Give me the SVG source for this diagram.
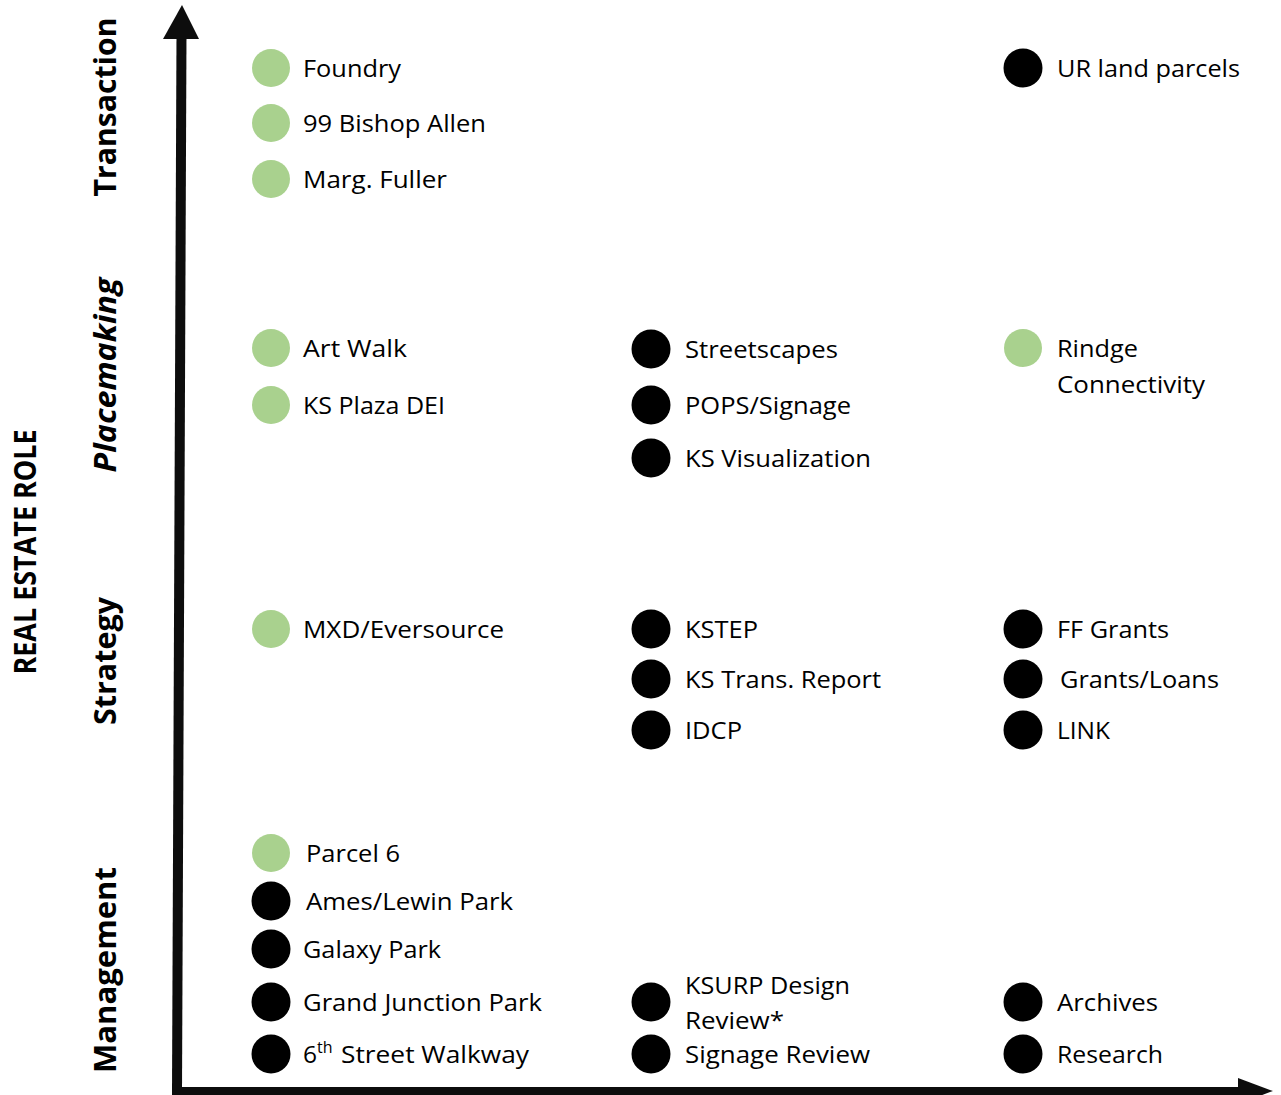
<svg xmlns="http://www.w3.org/2000/svg" width="1281" height="1095" viewBox="0 0 1281 1095">
<style>
.t{font-family:"Open Sans","Liberation Sans",sans-serif;font-size:24.5px;fill:#000}
.g{fill:#a9d18e}
.k{fill:#000}
.ax{font-family:"Open Sans","Liberation Sans",sans-serif;font-weight:bold;font-size:30px;fill:#000}
.axis{stroke:#0d0d0d;stroke-width:10;fill:none}
</style>
<rect width="1281" height="1095" fill="#fff"/>
<g id="connectors">
<path class="axis" d="M177,1092 L181.5,34"/>
<path class="axis" d="M172,1092 L1245,1092"/>
<polygon points="182,5 199,39 163,39" fill="#0d0d0d"/>
<polygon points="1273,1091 1238,1078 1238,1104" fill="#0d0d0d"/>
</g>
<g id="axis-labels">
<text class="ax" transform="translate(116,107) rotate(-90)" text-anchor="middle" textLength="179" lengthAdjust="spacingAndGlyphs">Transaction</text>
<text class="ax" transform="translate(116,375) rotate(-90)" text-anchor="middle" font-style="italic" textLength="195" lengthAdjust="spacingAndGlyphs">Placemaking</text>
<text class="ax" transform="translate(116,661) rotate(-90)" text-anchor="middle" textLength="128" lengthAdjust="spacingAndGlyphs">Strategy</text>
<text class="ax" transform="translate(116,970) rotate(-90)" text-anchor="middle" textLength="206" lengthAdjust="spacingAndGlyphs">Management</text>
<text class="ax" transform="translate(36,552) rotate(-90)" text-anchor="middle" font-size="24" textLength="245" lengthAdjust="spacingAndGlyphs">REAL ESTATE ROLE</text>
</g>
<g id="foundry"><circle class="g" cx="271" cy="68" r="19"/><text class="t" x="303" y="77" textLength="98" lengthAdjust="spacingAndGlyphs">Foundry</text></g>
<g id="bishop-allen"><circle class="g" cx="271" cy="123" r="19"/><text class="t" x="303" y="132" textLength="183" lengthAdjust="spacingAndGlyphs">99 Bishop Allen</text></g>
<g id="marg-fuller"><circle class="g" cx="271" cy="179" r="19"/><text class="t" x="303" y="188" textLength="144" lengthAdjust="spacingAndGlyphs">Marg. Fuller</text></g>
<g id="ur-land-parcels"><circle class="k" cx="1023" cy="68" r="19.5"/><text class="t" x="1057" y="77" textLength="183" lengthAdjust="spacingAndGlyphs">UR land parcels</text></g>
<g id="art-walk"><circle class="g" cx="271" cy="348" r="19"/><text class="t" x="303" y="357" textLength="104" lengthAdjust="spacingAndGlyphs">Art Walk</text></g>
<g id="ks-plaza-dei"><circle class="g" cx="271" cy="405" r="19"/><text class="t" x="303" y="414" textLength="142" lengthAdjust="spacingAndGlyphs">KS Plaza DEI</text></g>
<g id="streetscapes"><circle class="k" cx="651" cy="349" r="19.5"/><text class="t" x="685" y="358" textLength="153" lengthAdjust="spacingAndGlyphs">Streetscapes</text></g>
<g id="pops-signage"><circle class="k" cx="651" cy="405" r="19.5"/><text class="t" x="685" y="414" textLength="166" lengthAdjust="spacingAndGlyphs">POPS/Signage</text></g>
<g id="ks-visualization"><circle class="k" cx="651" cy="458" r="19.5"/><text class="t" x="685" y="467" textLength="186" lengthAdjust="spacingAndGlyphs">KS Visualization</text></g>
<g id="rindge-connectivity"><circle class="g" cx="1023" cy="348" r="19"/><text class="t" x="1057" y="357" textLength="81" lengthAdjust="spacingAndGlyphs">Rindge</text><text class="t" x="1057" y="393" textLength="148" lengthAdjust="spacingAndGlyphs">Connectivity</text></g>
<g id="mxd-eversource"><circle class="g" cx="271" cy="629" r="19"/><text class="t" x="303" y="638" textLength="201" lengthAdjust="spacingAndGlyphs">MXD/Eversource</text></g>
<g id="kstep"><circle class="k" cx="651" cy="629" r="19.5"/><text class="t" x="685" y="638" textLength="73" lengthAdjust="spacingAndGlyphs">KSTEP</text></g>
<g id="ks-trans-report"><circle class="k" cx="651" cy="679" r="19.5"/><text class="t" x="685" y="688" textLength="196" lengthAdjust="spacingAndGlyphs">KS Trans. Report</text></g>
<g id="idcp"><circle class="k" cx="651" cy="730" r="19.5"/><text class="t" x="685" y="739" textLength="57" lengthAdjust="spacingAndGlyphs">IDCP</text></g>
<g id="ff-grants"><circle class="k" cx="1023" cy="629" r="19.5"/><text class="t" x="1057" y="638" textLength="112" lengthAdjust="spacingAndGlyphs">FF Grants</text></g>
<g id="grants-loans"><circle class="k" cx="1023" cy="679" r="19.5"/><text class="t" x="1060" y="688" textLength="159" lengthAdjust="spacingAndGlyphs">Grants/Loans</text></g>
<g id="link"><circle class="k" cx="1023" cy="730" r="19.5"/><text class="t" x="1057" y="739" textLength="53" lengthAdjust="spacingAndGlyphs">LINK</text></g>
<g id="parcel-6"><circle class="g" cx="271" cy="853" r="19"/><text class="t" x="306" y="862" textLength="94" lengthAdjust="spacingAndGlyphs">Parcel 6</text></g>
<g id="ames-lewin-park"><circle class="k" cx="271" cy="901" r="19.5"/><text class="t" x="306" y="910" textLength="207" lengthAdjust="spacingAndGlyphs">Ames/Lewin Park</text></g>
<g id="galaxy-park"><circle class="k" cx="271" cy="949" r="19.5"/><text class="t" x="303" y="958" textLength="138" lengthAdjust="spacingAndGlyphs">Galaxy Park</text></g>
<g id="grand-junction-park"><circle class="k" cx="271" cy="1002" r="19.5"/><text class="t" x="303" y="1011" textLength="239" lengthAdjust="spacingAndGlyphs">Grand Junction Park</text></g>
<g id="sixth-street-walkway"><circle class="k" cx="271" cy="1054" r="19.5"/><text class="t" x="303" y="1063">6<tspan font-size="16" dy="-10">th</tspan><tspan x="341" y="1063" textLength="188" lengthAdjust="spacingAndGlyphs">Street Walkway</tspan></text></g>
<g id="ksurp-design-review"><circle class="k" cx="651" cy="1002" r="19.5"/><text class="t" x="685" y="994" textLength="165" lengthAdjust="spacingAndGlyphs">KSURP Design</text><text class="t" x="685" y="1029" textLength="99" lengthAdjust="spacingAndGlyphs">Review*</text></g>
<g id="signage-review"><circle class="k" cx="651" cy="1054" r="19.5"/><text class="t" x="685" y="1063" textLength="185" lengthAdjust="spacingAndGlyphs">Signage Review</text></g>
<g id="archives"><circle class="k" cx="1023" cy="1002" r="19.5"/><text class="t" x="1057" y="1011" textLength="101" lengthAdjust="spacingAndGlyphs">Archives</text></g>
<g id="research"><circle class="k" cx="1023" cy="1054" r="19.5"/><text class="t" x="1057" y="1063" textLength="106" lengthAdjust="spacingAndGlyphs">Research</text></g>
</svg>
